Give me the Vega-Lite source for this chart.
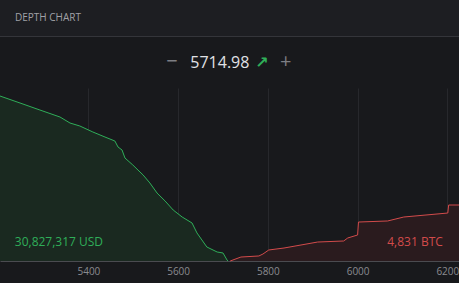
{
  "$schema": "https://vega.github.io/schema/vega-lite/v6.json",
  "autosize": {"type": "none"},
  "width": 459,
  "height": 173,
  "padding": {"top": 88, "left": 0, "right": 0, "bottom": 22},
  "background": "#18191c",
  "config": {"view": {"stroke": null}, "font": "Open Sans"},
  "datasets": {
    "bids": [
      {"price": 5203, "depth": 28.61}, {"price": 5247.6, "depth": 27.4}, {"price": 5292, "depth": 26.18},
      {"price": 5336.7, "depth": 24.97}, {"price": 5359, "depth": 23.93}, {"price": 5381, "depth": 23.41},
      {"price": 5410, "depth": 22.37}, {"price": 5437, "depth": 21.5}, {"price": 5459, "depth": 20.81},
      {"price": 5466, "depth": 19.77}, {"price": 5475, "depth": 19.25}, {"price": 5481.5, "depth": 17.86},
      {"price": 5499, "depth": 16.65}, {"price": 5522, "depth": 14.91}, {"price": 5537, "depth": 13.53},
      {"price": 5553, "depth": 11.79}, {"price": 5571, "depth": 10.4}, {"price": 5589, "depth": 8.84},
      {"price": 5609, "depth": 7.63}, {"price": 5631, "depth": 6.59}, {"price": 5642, "depth": 4.86},
      {"price": 5664, "depth": 2.43}, {"price": 5687, "depth": 1.56}, {"price": 5700, "depth": 1.39},
      {"price": 5709, "depth": 0.17}, {"price": 5711, "depth": 0}
    ],
    "asks": [
      {"price": 5716, "depth": 0}, {"price": 5740, "depth": 0.69}, {"price": 5780, "depth": 0.87},
      {"price": 5789, "depth": 1.21}, {"price": 5802, "depth": 1.91}, {"price": 5836, "depth": 2.25},
      {"price": 5911, "depth": 3.29}, {"price": 5969, "depth": 3.47}, {"price": 5978, "depth": 3.99},
      {"price": 6000, "depth": 4.51}, {"price": 6002, "depth": 6.76}, {"price": 6067, "depth": 6.94},
      {"price": 6103, "depth": 7.63}, {"price": 6201, "depth": 8.32}, {"price": 6203, "depth": 9.71},
      {"price": 6226, "depth": 9.71}
    ],
    "header": [{"x0": 5203, "x1": 6226, "y0": 39.02, "y1": 45.26, "yl": 38.93}]
  },
  "encoding": {
    "x": {"field": "price", "type": "quantitative", "scale": {"domain": [5203, 6226], "nice": false, "zero": false},
      "axis": {"values": [5400, 5600, 5800, 6000, 6200], "format": "d", "title": null, "grid": true, "gridColor": "#27282c", "gridWidth": 1,
        "domainColor": "#4a4b50", "ticks": false, "labelColor": "#8a8b90", "labelFontSize": 10,
        "labelFont": "Open Sans", "labelPadding": 5}},
    "y": {"field": "depth", "type": "quantitative", "scale": {"domain": [0, 30], "nice": false}, "axis": null}
  },
  "layer": [
    {
      "data": {"name": "header"},
      "mark": {"type": "rect", "color": "#1d1e22"},
      "encoding": {
        "x": {"field": "x0", "type": "quantitative"}, "x2": {"field": "x1"},
        "y": {"field": "y0", "type": "quantitative"}, "y2": {"field": "y1"}
      }
    },
    {
      "data": {"name": "header"},
      "mark": {"type": "rule", "color": "#34353a", "strokeWidth": 1},
      "encoding": {
        "x": {"field": "x0", "type": "quantitative"}, "x2": {"field": "x1"},
        "y": {"field": "yl", "type": "quantitative"}
      }
    },
    {"data": {"name": "bids"}, "mark": {"type": "area", "color": "#1a2920"}},
    {"data": {"name": "bids"}, "mark": {"type": "line", "color": "#2fae59", "strokeWidth": 1}},
    {"data": {"name": "asks"}, "mark": {"type": "area", "color": "#2a1b1e"}},
    {"data": {"name": "asks"}, "mark": {"type": "line", "color": "#d24b4b", "strokeWidth": 1}},
    {
      "data": {"values": [
        {"price": 5236.4, "depth": 42.14, "label": "DEPTH CHART"}
      ]},
      "mark": {"type": "text", "align": "left", "baseline": "middle", "fontSize": 10, "color": "#a0a1a6", "font": "Open Sans"},
      "encoding": {"text": {"field": "label"}}
    },
    {
      "data": {"values": [
        {"price": 5236, "depth": 3.29, "label": "30,827,317 USD"}
      ]},
      "mark": {"type": "text", "align": "left", "baseline": "middle", "fontSize": 12, "color": "#2fae59", "font": "Open Sans"},
      "encoding": {"text": {"field": "label"}}
    },
    {
      "data": {"values": [
        {"price": 6190, "depth": 3.29, "label": "4,831 BTC"}
      ]},
      "mark": {"type": "text", "align": "right", "baseline": "middle", "fontSize": 12, "color": "#d24b4b", "font": "Open Sans"},
      "encoding": {"text": {"field": "label"}}
    },
    {
      "data": {"values": [
        {"price": 5586, "depth": 34.51, "label": "−"}
      ]},
      "mark": {"type": "text", "align": "center", "baseline": "middle", "fontSize": 20, "color": "#7d7e83", "font": "Open Sans"},
      "encoding": {"text": {"field": "label"}}
    },
    {
      "data": {"values": [
        {"price": 5840, "depth": 34.51, "label": "+"}
      ]},
      "mark": {"type": "text", "align": "center", "baseline": "middle", "fontSize": 20, "color": "#7d7e83", "font": "Open Sans"},
      "encoding": {"text": {"field": "label"}}
    },
    {
      "data": {"values": [
        {"price": 5693, "depth": 34.3, "label": "5714.98"}
      ]},
      "mark": {"type": "text", "align": "center", "baseline": "middle", "fontSize": 16, "color": "#e0e1e5", "font": "Open Sans"},
      "encoding": {"text": {"field": "label"}}
    },
    {
      "data": {"values": [
        {"price": 5787, "depth": 34.3, "label": "↗"}
      ]},
      "mark": {"type": "text", "align": "center", "baseline": "middle", "fontSize": 16, "fontWeight": "bold", "color": "#2fae59", "font": "DejaVu Sans"},
      "encoding": {"text": {"field": "label"}}
    }
  ]
}
